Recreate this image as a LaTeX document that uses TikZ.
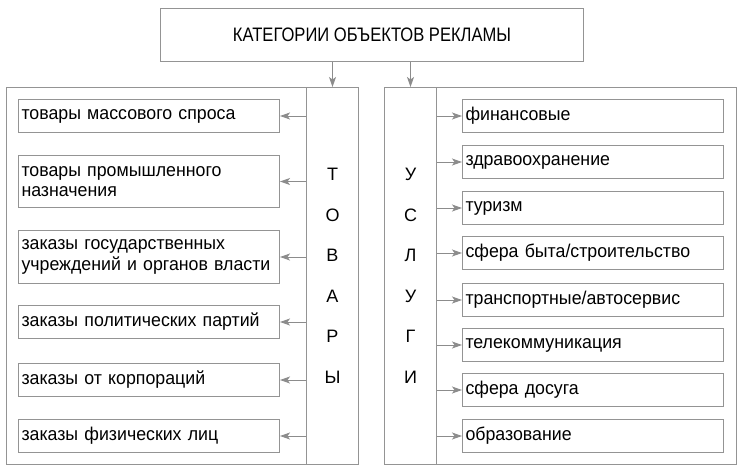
\documentclass[tikz,border=0pt]{standalone}
\usepackage{fontspec}
\setmainfont{Liberation Sans}
\usetikzlibrary{arrows.meta}

\definecolor{framegray}{gray}{0.58}
\definecolor{arrowgray}{gray}{0.55}

\newcommand{\itemfont}{\fontsize{18.5}{20.5}\selectfont\addfontfeature{FakeStretch=0.96}\spaceskip=3.2pt plus 1pt\relax}

\tikzset{
  frame/.style={draw=framegray, line width=1pt},
  item/.style={frame, anchor=north west, minimum width=261pt, minimum height=33pt,
    text width=255pt, align=left, inner xsep=3pt, inner ysep=0pt, font=\itemfont},
  column/.style={frame, anchor=north west, minimum width=52pt, minimum height=377pt,
    inner sep=0pt, align=center, font=\fontsize{18}{40.5}\selectfont},
  arr/.style={draw=arrowgray, line width=1pt, -{Stealth[length=10pt,width=7pt,inset=2.5pt]}},
}

\begin{document}
\begin{tikzpicture}[x=1pt,y=-1pt]
  \useasboundingbox (0,0) rectangle (745,471);

  % Title
  \node[frame, anchor=north west, minimum width=423pt, minimum height=53pt,
        font=\fontsize{19.5}{20}\selectfont] (title) at (160,8)
        {\addfontfeature{FakeStretch=0.85}КАТЕГОРИИ ОБЪЕКТОВ РЕКЛАМЫ};

  % Frames
  \node[frame, anchor=north west, minimum width=352pt, minimum height=377pt] (goods) at (6,87) {};
  \node[frame, anchor=north west, minimum width=352pt, minimum height=377pt] (services) at (384,87) {};
  \node[column] (tov) at (306,87) {Т\\О\\В\\А\\Р\\Ы};
  \node[column] (usl) at (384,87) {У\\С\\Л\\У\\Г\\И};

  % Goods
  \node[item] (g1) at (18,99) {товары массового спроса};
  \node[item, minimum height=52pt] (g2) at (18,155) {товары промышленного\\назначения};
  \node[item, minimum height=53pt] (g3) at (18,230) {заказы государственных\\учреждений и органов власти};
  \node[item] (g4) at (18,305) {заказы политических партий};
  \node[item] (g5) at (18,363) {заказы от корпораций};
  \node[item] (g6) at (18,419) {заказы физических лиц};

  % Services
  \node[item] (s1) at (462,99) {финансовые};
  \node[item] (s2) at (462,145) {здравоохранение};
  \node[item] (s3) at (462,191) {туризм};
  \node[item] (s4) at (462,236) {сфера быта/строительство};
  \node[item] (s5) at (462,283) {транспортные/автосервис};
  \node[item] (s6) at (462,328) {телекоммуникация};
  \node[item] (s7) at (462,373) {сфера досуга};
  \node[item] (s8) at (462,419) {образование};

  % Arrows
  \draw[arr] (title.south -| tov.north) -- (tov.north);
  \draw[arr] (title.south -| usl.north) -- (usl.north);
  \foreach \i in {1,...,6}
    \draw[arr] (tov.west |- g\i.east) -- (g\i.east);
  \foreach \i in {1,...,8}
    \draw[arr] (usl.east |- s\i.west) -- (s\i.west);
\end{tikzpicture}
\end{document}
